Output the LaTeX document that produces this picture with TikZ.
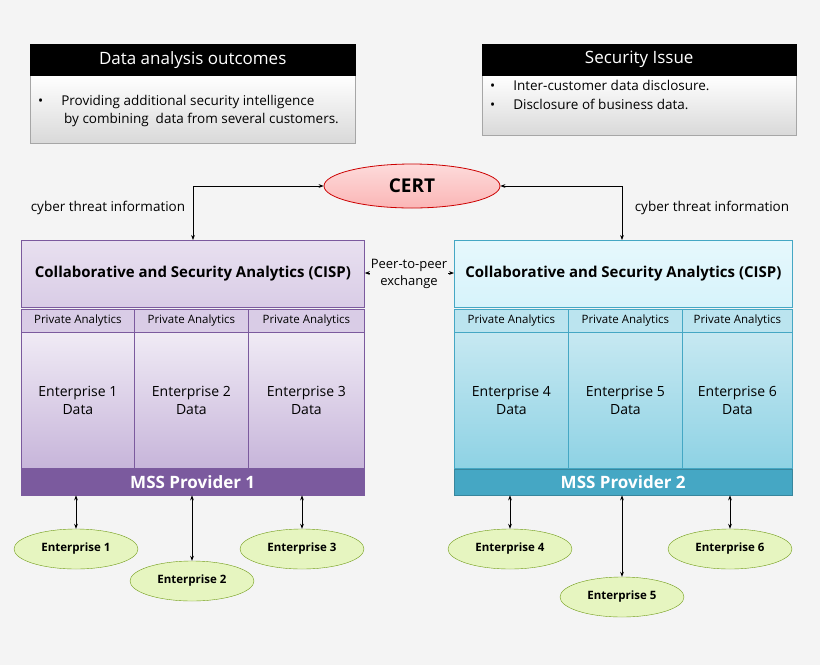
\documentclass[tikz,border=0pt]{standalone}
\usepackage{fontspec}
\setmainfont{Open Sans}
\usetikzlibrary{shapes.geometric,arrows.meta}
\definecolor{bg}{HTML}{F4F4F4}
\definecolor{purtop}{HTML}{D9CCE6}
\definecolor{purbot}{HTML}{C7B5DA}
\definecolor{purdark}{HTML}{7B5A9E}
\definecolor{cyantop}{HTML}{D6F3FB}
\definecolor{cyanbot}{HTML}{8ED2E4}
\definecolor{teal}{HTML}{45A7C4}
\definecolor{pinkf}{HTML}{FBB6B6}
\definecolor{greenf}{HTML}{E6F5C0}
\newcommand{\fs}[1]{\fontsize{#1pt}{\dimexpr #1pt*13/10\relax}\selectfont}
\tikzset{
 hdr/.style={fill=black,text=white,font=\fs{17},draw=black},
 body/.style={top color=white,bottom color=gray!30,draw=gray!70,line width=0.8pt},
 lbox/.style={draw=purdark,line width=0.8pt},
 rbox/.style={draw=teal,line width=0.8pt},
 ent/.style={ellipse,draw=olive!60!green,fill=greenf,minimum width=124pt,minimum height=40pt,font=\fs{11.5}\bfseries},
 arr/.style={{Stealth[length=5pt]}-{Stealth[length=5pt]},line width=0.7pt},
 pa/.style={font=\fs{11.5}},
 ed/.style={align=center,font=\fs{14}}
}
\begin{document}
\begin{tikzpicture}[x=1pt,y=-1pt]
\fill[bg] (0,0) rectangle (820,665);
\useasboundingbox (0,0) rectangle (820,665);
% top boxes
\node[body,minimum width=325pt,minimum height=68pt,anchor=north west] (b1) at (30,75) {};
\node[hdr,minimum width=325pt,minimum height=31pt,anchor=north west] (h1) at (30,44) {Data analysis outcomes};
\node[anchor=north west,align=left,font=\fs{13.5},inner sep=0pt] (t1) at (38,95) {•\hspace{18pt}Providing additional security intelligence\\\hspace{26pt}by combining\ \ data from several customers.};
\node[body,minimum width=314pt,minimum height=60pt,anchor=north west] (b2) at (482,75) {};
\node[hdr,minimum width=314pt,minimum height=31pt,anchor=north west] (h2) at (482,44) {Security Issue};
\node[anchor=north west,align=left,font=\fs{13.5},inner sep=0pt] (t2) at (490,80) {•\hspace{18pt}Inter-customer data disclosure.\\[1pt]•\hspace{18pt}Disclosure of business data.};
% CERT
\node[ellipse,draw=red!80!black,line width=0.8pt,top color=pinkf!50,bottom color=pinkf,minimum width=176pt,minimum height=44pt,font=\fs{19}\bfseries] (cert) at (412,186) {CERT};
% left block
\node[lbox,top color=purtop!60,bottom color=purtop,minimum width=343pt,minimum height=67pt,anchor=north west,font=\fs{15}\bfseries] (cl) at (21,240) {Collaborative and Security Analytics (CISP)};
\foreach \i/\x/\n/\w in {1/21/1/113,2/134/2/114,3/248/3/116}{
 \node[lbox,fill=purtop,minimum width=\w pt,minimum height=23pt,anchor=north west,pa,inner sep=0pt] (pl\i) at (\x,309) {Private Analytics};
 \node[lbox,top color=purtop!40,bottom color=purbot,minimum width=\w pt,minimum height=136pt,anchor=north west,ed] (el\i) at (\x,332) {Enterprise \n\\Data};
}
\node[draw=purdark,fill=purdark,text=white,minimum width=343pt,minimum height=26pt,anchor=north west,font=\fs{17}\bfseries,inner sep=0pt] (mss1) at (21,469) {MSS Provider 1};
% right block
\node[rbox,top color=cyantop!60,bottom color=cyantop,minimum width=338pt,minimum height=67pt,anchor=north west,font=\fs{15}\bfseries] (cr) at (454,240) {Collaborative and Security Analytics (CISP)};
\foreach \i/\x/\n/\w in {1/454/4/114,2/568/5/114,3/682/6/110}{
 \node[rbox,fill=cyanbot!60,minimum width=\w pt,minimum height=23pt,anchor=north west,pa,inner sep=0pt] (pr\i) at (\x,309) {Private Analytics};
 \node[rbox,top color=cyanbot!50,bottom color=cyanbot,minimum width=\w pt,minimum height=136pt,anchor=north west,ed] (er\i) at (\x,332) {Enterprise \n\\Data};
}
\node[draw=teal!80!black,fill=teal,text=white,minimum width=338pt,minimum height=26pt,anchor=north west,font=\fs{17}\bfseries,inner sep=0pt] (mss2) at (454,469) {MSS Provider 2};
% CERT links
\coordinate (cl1) at (193,186);
\coordinate (cr1) at (622,186);
\draw[arr] (cert.west) -- (cl1) -- (cl1 |- cl.north);
\draw[arr] (cert.east) -- (cr1) -- (cr1 |- cr.north);
\node[font=\fs{13.5}] (cti1) at (108,208) {cyber threat information};
\node[font=\fs{13.5}] (cti2) at (712,208) {cyber threat information};
% peer
\draw[arr] (cl.east |- 0,273) -- (cr.west |- 0,273);
\node[font=\fs{13},align=center,fill=bg,inner sep=1pt] (peer) at (409,274) {Peer-to-peer\\exchange};
% enterprises
\node[ent] (e1) at (76,549) {Enterprise 1};
\node[ent] (e2) at (192,581) {Enterprise 2};
\node[ent] (e3) at (302,549) {Enterprise 3};
\node[ent] (e4) at (510,549) {Enterprise 4};
\node[ent] (e5) at (622,597) {Enterprise 5};
\node[ent] (e6) at (730,549) {Enterprise 6};
\foreach \e/\m in {e1/mss1,e2/mss1,e3/mss1,e4/mss2,e5/mss2,e6/mss2}
 \draw[arr] (\e.north) -- (\e.north |- \m.south);
\end{tikzpicture}
\end{document}
